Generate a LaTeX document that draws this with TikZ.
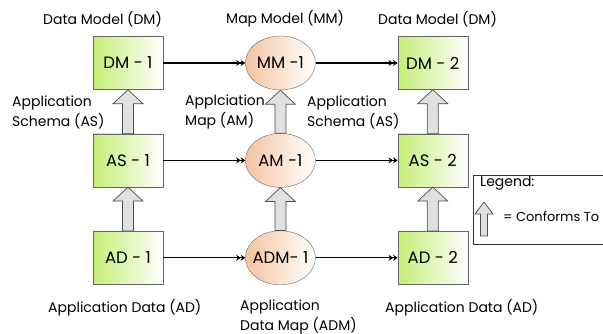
\documentclass[tikz,border=0pt]{standalone}
\usepackage{fontspec}
\setmainfont{Poppins}
\usepackage{tikz}
\usetikzlibrary{positioning,shapes.geometric,arrows.meta,calc}
\definecolor{boxgreen}{RGB}{196,238,118}
\definecolor{mappeach}{RGB}{244,196,160}
\tikzset{
  conf shaft/.initial=5.5pt,
  conf head/.initial=15pt,
  conf len/.initial=14pt
}

\begin{document}
\begin{tikzpicture}[x=1pt, y=-1pt, node distance = 44pt and 82pt]
\tikzstyle{model}=[rectangle, draw=black!60, minimum width=70pt, minimum height=53pt, left color=boxgreen, right color=white, font=\fontsize{16.5}{20}\selectfont]
\tikzstyle{mapping}=[ellipse, draw=black!60, minimum width=70pt, minimum height=54pt, inner xsep=-10pt, inner ysep=0pt, left color=mappeach, right color=white, font=\fontsize{16.5}{20}\selectfont]
\tikzstyle{connect}=[-{Stealth[length=4.5pt,width=6pt]Stealth[length=4.5pt,width=6pt]}, line width=1.2pt]
\tikzstyle{conforms}=[draw=black!70, fill=black!12, line width=0.7pt, to path={let \p1=(\tikztostart), \p2=(\tikztotarget) in
  ({\x1-\pgfkeysvalueof{/tikz/conf shaft}},\y1) -- ({\x1-\pgfkeysvalueof{/tikz/conf shaft}},{\y2-\pgfkeysvalueof{/tikz/conf len}})
  -- ({\x1-\pgfkeysvalueof{/tikz/conf head}},{\y2-\pgfkeysvalueof{/tikz/conf len}}) -- (\x1,\y2)
  -- ({\x1+\pgfkeysvalueof{/tikz/conf head}},{\y2-\pgfkeysvalueof{/tikz/conf len}}) -- ({\x1+\pgfkeysvalueof{/tikz/conf shaft}},{\y2-\pgfkeysvalueof{/tikz/conf len}})
  -- ({\x1+\pgfkeysvalueof{/tikz/conf shaft}},\y1) -- cycle}]
\tikzstyle{caption}=[anchor=west, align=left, inner sep=0pt, font=\fontsize{14}{20}\selectfont]
  \useasboundingbox (0,0) rectangle (603,334);
  \clip (0,0) rectangle (603,334);
  % models and maps
  \node[model] (dm1) at (128,63) {DM - 1};
  \node[mapping] (mm1) [right=of dm1] {MM -1};
  \node[model] (dm2) [right=of mm1] {DM - 2};
  \node[model] (as1) [below=of dm1] {AS - 1};
  \node[mapping] (am1) [right=of as1] {AM -1};
  \node[model] (as2) [right=of am1] {AS - 2};
  \node[model] (ad1) [below=of as1] {AD - 1};
  \node[mapping] (adm1) [right=of ad1] {ADM- 1};
  \node[model] (ad2) [right=of adm1] {AD - 2};
  \path (dm1) edge [connect] (mm1)
        (mm1) edge [connect] (dm2)
        (as1) edge [connect] (am1)
        (am1) edge [connect] (as2)
        (ad1) edge [connect] (adm1)
        (adm1) edge [connect] (ad2);
  \path[conforms] (as1.north) to (dm1.south);
  \path[conforms] (ad1.north) to (as1.south);
  \path[conforms] (am1.north) to (mm1.south);
  \path[conforms] (adm1.north) to (am1.south);
  \path[conforms] (as2.north) to (dm2.south);
  \path[conforms] (ad2.north) to (as2.south);
  % captions
  \node[caption] (dmcap1) at (43,19) {Data Model (DM)};
  \node[caption] (mmcap) at (226,19) {Map Model (MM)};
  \node[caption] (dmcap2) at (378,19) {Data Model (DM)};
  \node[caption] (ascap1) at (12,112) {Application\\Schema (AS)};
  \node[caption] (amcap) at (185,112) {Applciation\\Map (AM)};
  \node[caption] (ascap2) at (307,112) {Application\\Schema (AS)};
  \node[caption] (adcap1) at (48,308) {Application Data (AD)};
  \node[caption] (admcap) at (240,317) {Application\\Data Map (ADM)};
  \node[caption] (adcap2) at (385,308) {Application Data (AD)};
  % legend
  \node[draw=black!80, line width=0.7pt, anchor=north west, minimum width=140pt, minimum height=69pt, inner sep=0pt] (legend) at (473,175) {};
  \node[caption] (legendtitle) at (480,183) {Legend:};
  \coordinate (legbase) at (484,236);
  \coordinate (legtip) at (484,202);
  \path[conforms, conf shaft=3.5pt, conf head=9pt, conf len=12pt] (legbase) to (legtip);
  \node[caption, font=\fontsize{13}{16}\selectfont] (conformstext) at (503,217) {= Conforms To};
\end{tikzpicture}
\end{document}
